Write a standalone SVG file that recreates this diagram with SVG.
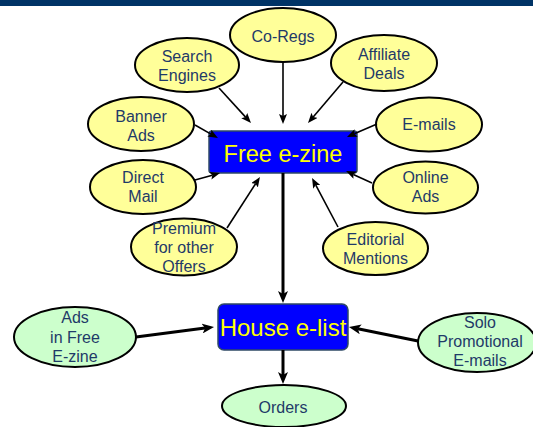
<svg xmlns="http://www.w3.org/2000/svg" width="533" height="427" viewBox="0 0 533 427">
<style>
.bg{fill:#ffffff}
.y{fill:#FFFF99;stroke:#000;stroke-width:2}
.g{fill:#CCFFCC;stroke:#000;stroke-width:2}
.box{fill:#0000FF;stroke:#2F4A66;stroke-width:1.5}
.t{font-family:"Liberation Sans",Arial,sans-serif;font-size:16px;fill:#1F3A68;text-anchor:middle}
.bt{font-family:"Liberation Sans",Arial,sans-serif;fill:#FFFF00;text-anchor:middle}
.thin{stroke:#000;stroke-width:1.6;fill:none;marker-end:url(#ah)}
.thick{stroke:#000;stroke-width:3;fill:none;marker-end:url(#ahb)}
</style>
<defs>
<marker id="ah" markerUnits="userSpaceOnUse" markerWidth="10" markerHeight="8" refX="2" refY="4" orient="auto" viewBox="0 0 10 8">
<path d="M0,0 L10,4 L0,8 L2,4 z" fill="#000"/>
</marker>
<marker id="ahb" markerUnits="userSpaceOnUse" markerWidth="12" markerHeight="10" refX="3" refY="5" orient="auto" viewBox="0 0 12 10">
<path d="M0,0 L12,5 L0,10 L3,5 z" fill="#000"/>
</marker>
</defs>
<rect class="bg" x="0" y="0" width="533" height="427"/>
<rect x="0" y="0" width="533" height="6" fill="#003366"/>
<g id="co-regs"><ellipse class="y" cx="283" cy="35" rx="53" ry="27"/><text class="t" x="283" y="41.5">Co-Regs</text></g>
<g id="search-engines"><ellipse class="y" cx="187" cy="65" rx="52" ry="27"/><text class="t" x="187" y="62">Search</text><text class="t" x="187" y="81">Engines</text></g>
<g id="banner-ads"><ellipse class="y" cx="141" cy="124" rx="53" ry="27"/><text class="t" x="141" y="122">Banner</text><text class="t" x="141" y="140.5">Ads</text></g>
<g id="affiliate-deals"><ellipse class="y" cx="384" cy="63" rx="53" ry="28"/><text class="t" x="384" y="60">Affiliate</text><text class="t" x="384" y="79">Deals</text></g>
<g id="e-mails"><ellipse class="y" cx="429" cy="124.5" rx="53" ry="27"/><text class="t" x="429" y="130">E-mails</text></g>
<g id="direct-mail"><ellipse class="y" cx="143" cy="187" rx="53" ry="27"/><text class="t" x="143" y="183">Direct</text><text class="t" x="143" y="202">Mail</text></g>
<g id="premium"><ellipse class="y" cx="184" cy="247" rx="53" ry="28.5"/><text class="t" x="184" y="234">Premium</text><text class="t" x="184" y="253">for other</text><text class="t" x="184" y="272">Offers</text></g>
<g id="online-ads"><ellipse class="y" cx="425.5" cy="187.5" rx="52.5" ry="26"/><text class="t" x="425.5" y="183">Online</text><text class="t" x="425.5" y="202">Ads</text></g>
<g id="editorial-mentions"><ellipse class="y" cx="375.5" cy="248.5" rx="52.5" ry="26.5"/><text class="t" x="375.5" y="244.5">Editorial</text><text class="t" x="375.5" y="263.5">Mentions</text></g>
<g id="free-ezine"><rect class="box" x="209" y="131" width="148" height="42" rx="3"/><text class="bt" x="283" y="162" font-size="23.5">Free e-zine</text></g>
<g id="house-elist"><rect class="box" x="218" y="304" width="130" height="46" rx="6"/><text class="bt" x="283" y="336" font-size="24">House e-list</text></g>
<g id="ads-free-ezine"><ellipse class="g" cx="75" cy="337" rx="61" ry="30"/><text class="t" x="75" y="323">Ads</text><text class="t" x="75" y="343">in Free</text><text class="t" x="75" y="362">E-zine</text></g>
<g id="solo"><ellipse class="g" cx="477" cy="342.5" rx="59" ry="29.5"/><text class="t" x="480" y="328">Solo</text><text class="t" x="480" y="347">Promotional</text><text class="t" x="480" y="365.5">E-mails</text></g>
<g id="orders"><ellipse class="g" cx="284" cy="406" rx="62" ry="21"/><text class="t" x="283" y="413">Orders</text></g>
<g id="connectors">
<line class="thin" x1="283" y1="62" x2="283" y2="116"/>
<line class="thin" x1="219" y1="88" x2="245.6" y2="117.1"/>
<line class="thin" x1="195" y1="125" x2="211" y2="134.1"/>
<line class="thin" x1="343" y1="82" x2="313.2" y2="116.9"/>
<line class="thin" x1="377" y1="124" x2="354.3" y2="133.8"/>
<line class="thin" x1="195" y1="180" x2="212.3" y2="175.2"/>
<line class="thin" x1="227" y1="228" x2="255.6" y2="183.7"/>
<line class="thin" x1="372" y1="183" x2="353.3" y2="174.4"/>
<line class="thin" x1="338" y1="227" x2="315.8" y2="185.1"/>
<line class="thick" x1="283" y1="173" x2="283" y2="294"/>
<line class="thick" x1="283" y1="350" x2="283" y2="375"/>
<line class="thick" x1="136" y1="337" x2="205.1" y2="328.1"/>
<line class="thick" x1="418" y1="341" x2="357.8" y2="328.8"/>
</g>
</svg>
